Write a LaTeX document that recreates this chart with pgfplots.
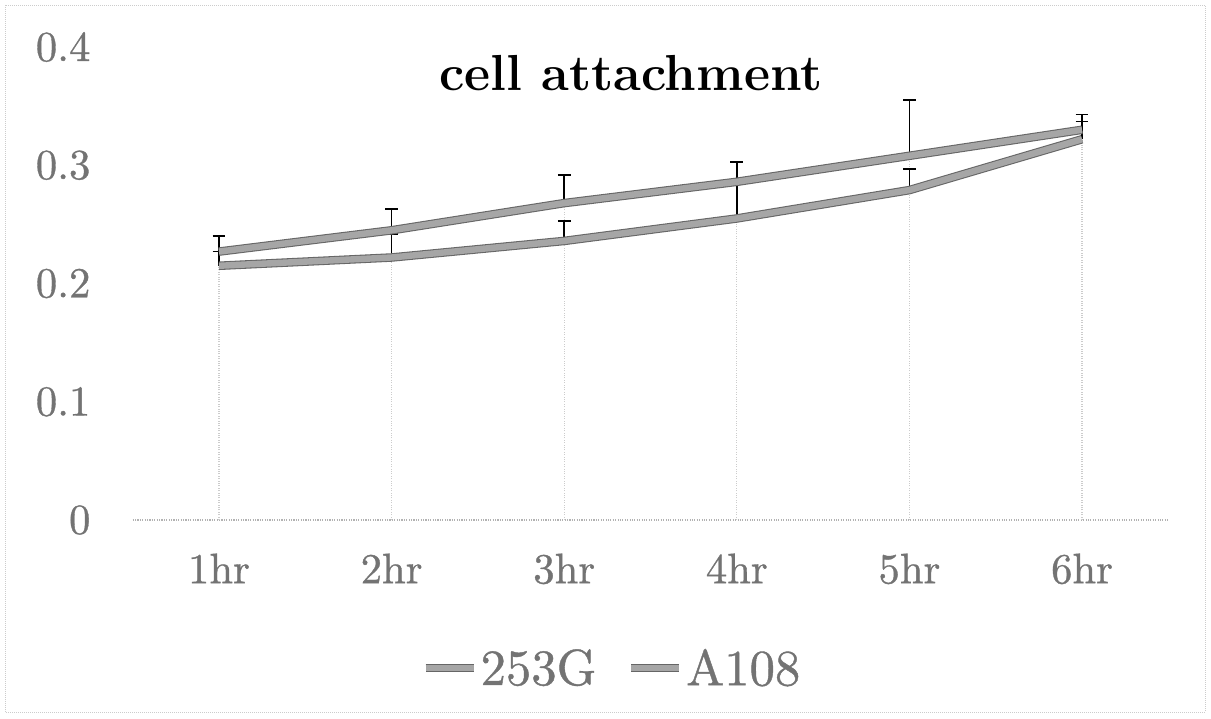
\documentclass[border=0pt]{standalone}
\usepackage{fontspec}
\newfontfamily\greyfont{lmroman10-regular.otf}[FakeBold=0.8]
\usepackage{pgfplots}
\usepackage{pgfplotstable}
\pgfplotsset{compat=1.18}

% upper line and lower line, with upper error only
\pgfplotstableread{
x y e
1 0.227 0.013
2 0.245 0.018
3 0.268 0.024
4 0.286 0.017
5 0.308 0.047
6 0.330 0.013
}\topdata
\pgfplotstableread{
x y e
1 0.215 0.012
2 0.222 0.020
3 0.236 0.017
4 0.255 0.048
5 0.279 0.018
6 0.322 0.015
}\botdata

\begin{document}
\begin{tikzpicture}
\path[use as bounding box] (-99.5pt,-148.5pt) rectangle (808.7pt,390pt);
\draw[black!20, densely dotted, line width=0.5pt] (-95.8pt,-144pt) rectangle (804.2pt,386.2pt);
\begin{axis}[
    at={(0,0)}, anchor=south west,
    scale only axis,
    width=776.7pt, height=354.75pt,
    xmin=0.5, xmax=6.5, ymin=0, ymax=0.4,
    clip=false,
    axis x line=bottom, axis y line=left,
    y axis line style={draw=none},
    x axis line style={-, draw=black!30, densely dotted, line width=0.8pt},
    major tick length=0pt,
    xtick={1,2,3,4,5,6},
    xticklabels={1hr,2hr,3hr,4hr,5hr,6hr},
    ytick={0,0.1,0.2,0.3,0.4},
    /pgf/number format/assume math mode=true,
    yticklabel style={/pgf/number format/fixed, /pgf/number format/precision=1},
    tick label style={font=\greyfont\fontsize{32}{34}\selectfont, text=black!55, inner sep=0pt},
    xticklabel shift=25pt,
    yticklabel shift=31.5pt,
    title={cell attachment},
    title style={at={(0.481,0.892)}, anchor=base, font=\bfseries\fontsize{38}{40}\selectfont},
    legend style={draw=none, fill=none, at={(0.463,-0.313)}, anchor=center,
        font=\greyfont\fontsize{38}{40}\selectfont, text=black!55,
        /tikz/every even column/.append style={column sep=21pt}},
    legend columns=2,
    legend image code/.code={\draw[#1] (0pt,0pt) -- (36pt,0pt);},
    line/.style={draw=black!60, double=black!35, double distance=4.8pt, line width=0.8pt, mark=none},
]
% drop lines
\addplot[ycomb, draw=black!20, densely dotted, line width=0.8pt, forget plot] table[x=x, y=y] {\topdata};
% error bars
\addplot[draw=none, mark=none, forget plot,
    error bars/.cd, y dir=plus, y explicit,
    error bar style={draw=black, solid, line width=1.2pt},
    error mark options={draw=black, solid, line width=1.2pt, mark size=4.75pt, rotate=90}]
    table[x=x, y=y, y error=e] {\topdata};
\addplot[draw=none, mark=none, forget plot,
    error bars/.cd, y dir=plus, y explicit,
    error bar style={draw=black, solid, line width=1.2pt},
    error mark options={draw=black, solid, line width=1.2pt, mark size=4.75pt, rotate=90}]
    table[x=x, y=y, y error=e] {\botdata};
% lines
\addplot[line] table[x=x, y=y] {\topdata};
\addlegendentry{253G}
\addplot[line] table[x=x, y=y] {\botdata};
\addlegendentry{A108}
\end{axis}
\end{tikzpicture}
\end{document}
